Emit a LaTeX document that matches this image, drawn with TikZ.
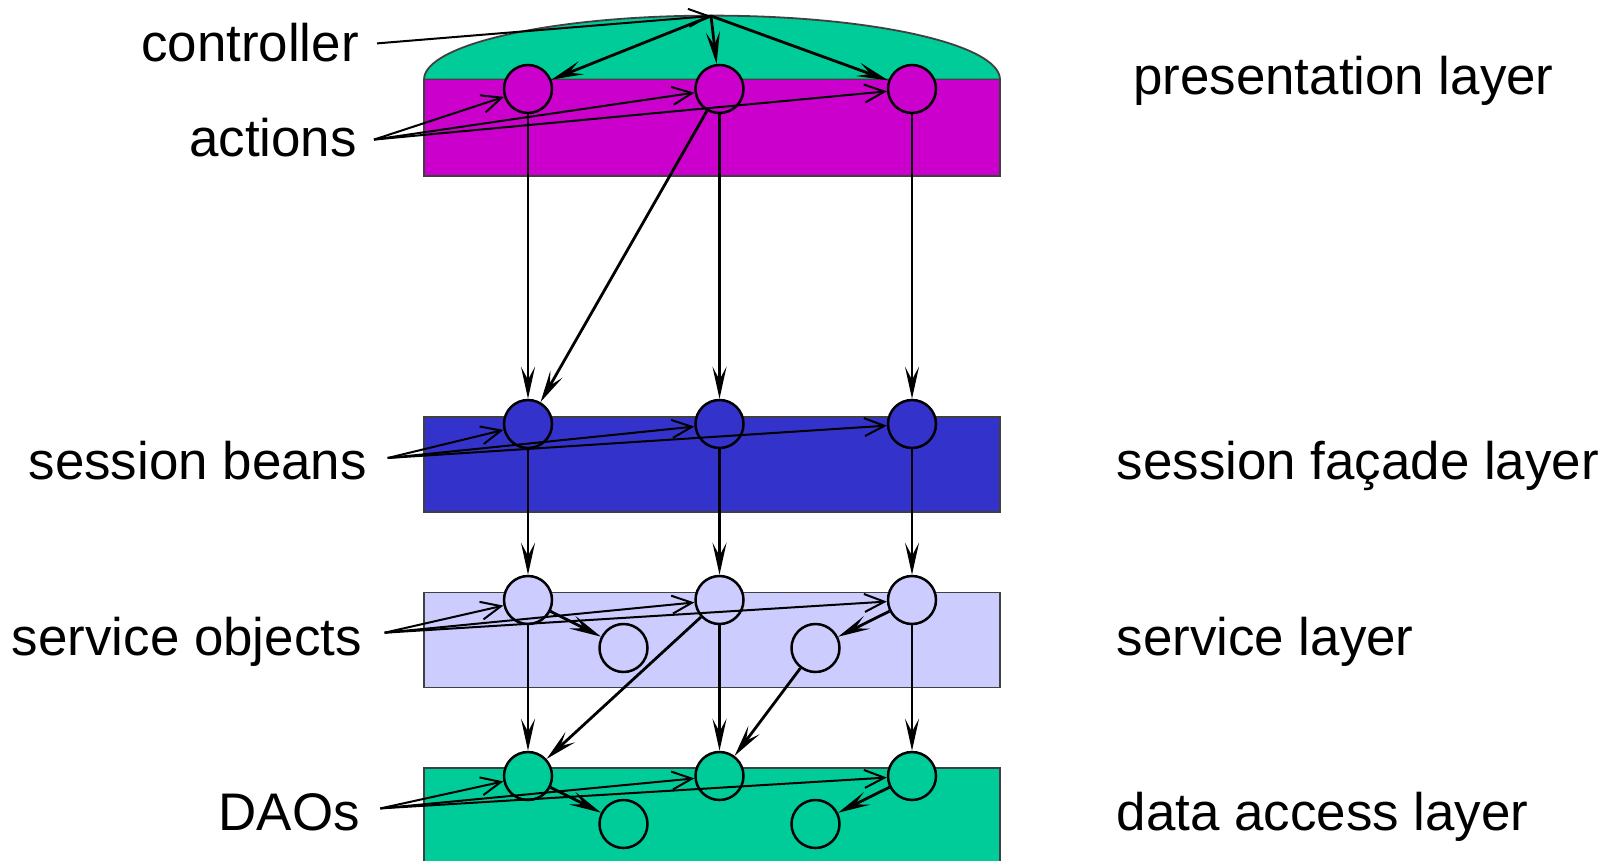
\documentclass[tikz,border=0pt]{standalone}
\usepackage{fontspec}
\setmainfont{Liberation Sans}
\usetikzlibrary{arrows.meta}
\definecolor{daogreen}{RGB}{0,204,153}
\definecolor{actmag}{RGB}{204,0,204}
\definecolor{beanblue}{RGB}{51,51,204}
\definecolor{svclav}{RGB}{204,204,255}
\begin{document}
\begin{tikzpicture}[x=1pt,y=-1pt,
  layerbox/.style={draw=black!75,line width=1.8pt},
  comp/.style={circle,draw=black,line width=2.5pt,minimum size=48pt,inner sep=0pt},
  flow/.style={line width=2.8pt,-{Stealth[length=32pt,width=14pt,inset=13pt]}},
  ptr/.style={line width=2pt,-{Straight Barb[length=20pt,width=18pt]}},
  lbl/.style={font=\fontsize{52.9pt}{60pt}\selectfont,inner sep=0pt}]
\useasboundingbox (0,0) rectangle (1621,861);

% layer bands
\draw[layerbox,fill=daogreen] (424,79.6) .. controls (424,44.3) and (552.9,15.6) .. (712,15.6)
  .. controls (871.1,15.6) and (1000,44.3) .. (1000,79.6) -- cycle;
\draw[layerbox,fill=actmag] (424,79.6) rectangle (1000,175.7);
\draw[layerbox,fill=beanblue] (424,416.6) rectangle (1000,511.7);
\draw[layerbox,fill=svclav] (424,592.4) rectangle (1000,687.5);
\draw[layerbox,fill=daogreen] (424,768) rectangle (1000,875);

% components
\node[comp,fill=actmag] (a1) at (528,89) {};
\node[comp,fill=actmag] (a2) at (719.5,89) {};
\node[comp,fill=actmag] (a3) at (912,89) {};
\node[comp,fill=beanblue] (b1) at (528,424) {};
\node[comp,fill=beanblue] (b2) at (719.5,424) {};
\node[comp,fill=beanblue] (b3) at (912,424) {};
\node[comp,fill=svclav] (s1) at (528,600) {};
\node[comp,fill=svclav] (s2) at (719.5,600) {};
\node[comp,fill=svclav] (s3) at (912,600) {};
\node[comp,fill=svclav] (sx1) at (623.5,648) {};
\node[comp,fill=svclav] (sx2) at (815.5,648) {};
\node[comp,fill=daogreen] (d1) at (528,776) {};
\node[comp,fill=daogreen] (d2) at (719.5,776) {};
\node[comp,fill=daogreen] (d3) at (912,776) {};
\node[comp,fill=daogreen] (dx1) at (623.5,824) {};
\node[comp,fill=daogreen] (dx2) at (815.5,824) {};

\coordinate (peak) at (711,16);

% labels
\node[lbl,anchor=base east] (tctl) at (359,62) {controller};
\node[lbl,anchor=base east] (tact) at (357,157) {actions};
\node[lbl,anchor=base east] (tsb) at (367,479) {session beans};
\node[lbl,anchor=base east] (tso) at (362,655) {service objects};
\node[lbl,anchor=base east] (tdao) at (360,830) {DAOs};
\node[lbl,anchor=base west] (lpres) at (1133,95) {presentation layer};
\node[lbl,anchor=base west] (lsess) at (1116.5,479) {session façade layer};
\node[lbl,anchor=base west] (lserv) at (1116.5,655) {service layer};
\node[lbl,anchor=base west] (ldata) at (1116.5,830) {data access layer};

\coordinate (ctlP) at (377,43.4);
\coordinate (actP) at (374,139.6);
\coordinate (sbP) at (387.7,458);
\coordinate (soP) at (384.6,632.7);
\coordinate (daoP) at (380.4,808.4);

% calls between components
\draw[flow] (peak) -- (a1);
\draw[flow] (peak) -- (a2);
\draw[flow] (peak) -- (a3);
\draw[flow] (a1) -- (b1);
\draw[flow] (a2) -- (b2);
\draw[flow] (a3) -- (b3);
\draw[flow] (a2) -- (b1);
\draw[flow] (b1) -- (s1);
\draw[flow] (b2) -- (s2);
\draw[flow] (b3) -- (s3);
\draw[flow] (s1) -- (sx1);
\draw[flow] (s3) -- (sx2);
\draw[flow] (s1) -- (d1);
\draw[flow] (s2) -- (d2);
\draw[flow] (s3) -- (d3);
\draw[flow] (s2) -- (d1);
\draw[flow] (sx2) -- (d2);
\draw[flow] (d1) -- (dx1);
\draw[flow] (d3) -- (dx2);

% label pointers
\draw[ptr] (ctlP) -- (peak);
\foreach \t in {a1,a2,a3} \draw[ptr] (actP) -- (\t);
\foreach \t in {b1,b2,b3} \draw[ptr] (sbP) -- (\t);
\foreach \t in {s1,s2,s3} \draw[ptr] (soP) -- (\t);
\foreach \t in {d1,d2,d3} \draw[ptr] (daoP) -- (\t);
\end{tikzpicture}
\end{document}
